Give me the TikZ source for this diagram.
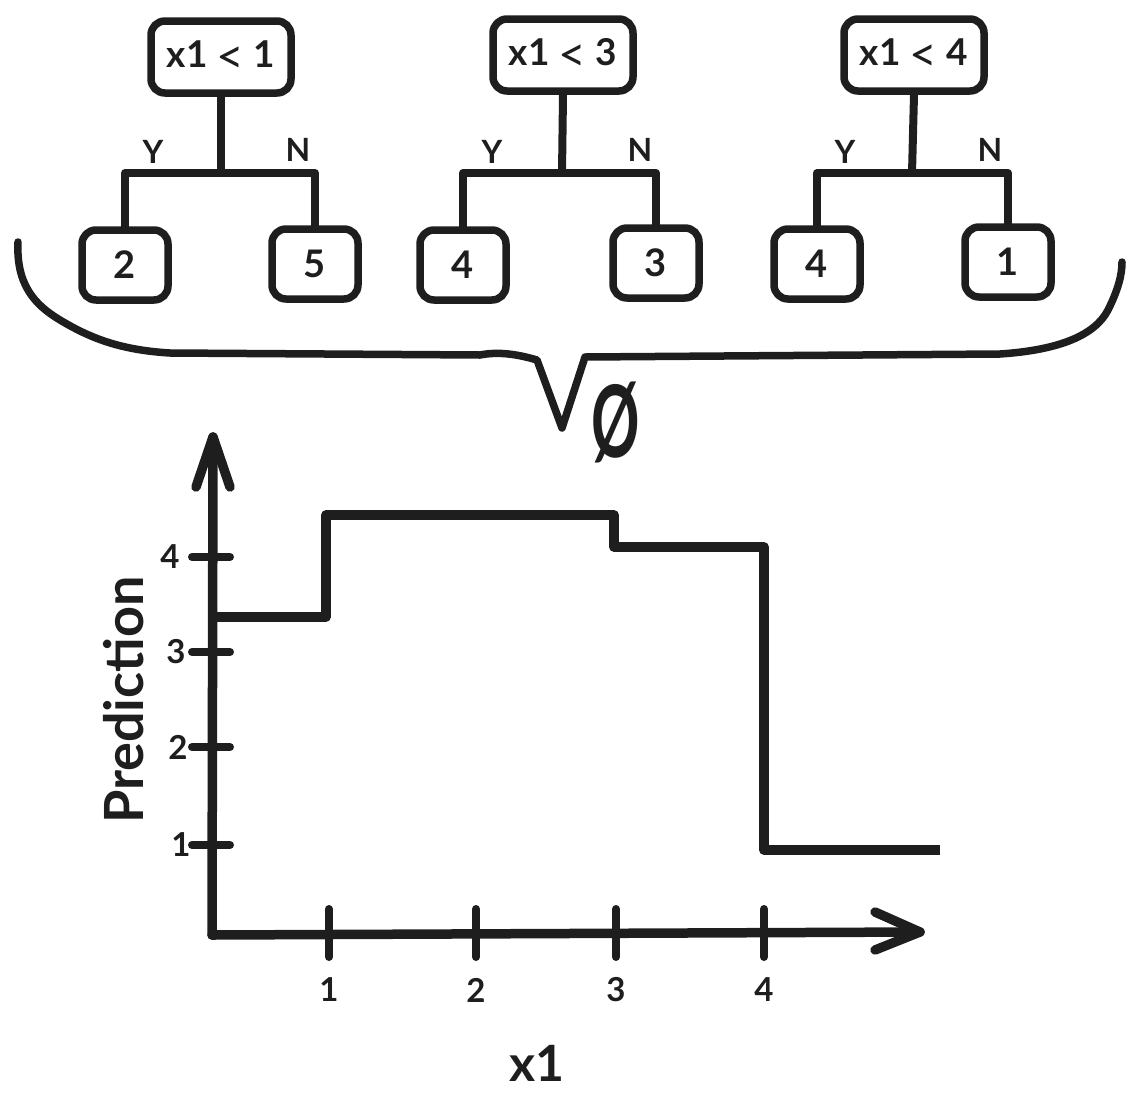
\documentclass[tikz,border=0pt]{standalone}
\usepackage{fontspec}
\setmainfont{Lato}
\usetikzlibrary{calc}
\definecolor{ink}{HTML}{1E1E1E}
\newcommand{\bigless}{\raisebox{-6pt}{\fontsize{48}{40}\selectfont\mdseries<}}
\begin{document}
\begin{tikzpicture}[x=1pt,y=-1pt,line cap=round,line join=round,
  inkline/.style={draw=ink,line width=8pt},
  rootbox/.style={draw=ink,line width=7.5pt,rounded corners=14pt,minimum width=140pt,minimum height=72pt,inner sep=0pt,text=ink,font=\fontsize{37}{40}\selectfont\bfseries},
  leafbox/.style={draw=ink,line width=7.5pt,rounded corners=14pt,minimum width=86pt,minimum height=70pt,inner sep=0pt,text=ink,font=\fontsize{38}{40}\selectfont\bfseries},
  ynlabel/.style={text=ink,inner sep=0pt,font=\fontsize{32}{34}\selectfont\bfseries},
  ticklabel/.style={text=ink,inner sep=0pt,font=\fontsize{33}{35}\selectfont\bfseries},
  axislabel/.style={text=ink,inner sep=0pt,font=\fontsize{50}{54}\selectfont\bfseries}]
\useasboundingbox (0,0) rectangle (1145,1119);

% ---------- trees ----------
\node[rootbox] (r1) at (221,57) {x1 \bigless{} 1};
\node[leafbox] (a1) at (125,265) {2};
\node[leafbox] (b1) at (315,264) {5};
\coordinate (j1) at (221,173);
\draw[inkline] (r1.south) -- (j1);
\draw[inkline] (a1.north) -- (a1.north |- j1) -- (b1.north |- j1) -- (b1.north);
\node[ynlabel] (y1) at (153,152) {Y};
\node[ynlabel] (n1) at (298,150) {N};

\node[rootbox] (r2) at (563,55) {x1 \bigless{} 3};
\node[leafbox] (a2) at (463,265) {4};
\node[leafbox] (b2) at (656,263) {3};
\coordinate (j2) at (562,173);
\draw[inkline] (r2.south) -- (j2);
\draw[inkline] (a2.north) -- (a2.north |- j2) -- (b2.north |- j2) -- (b2.north);
\node[ynlabel] (y2) at (492,152) {Y};
\node[ynlabel] (n2) at (640,150) {N};

\node[rootbox] (r3) at (914,55) {x1 \bigless{} 4};
\node[leafbox] (a3) at (817,264) {4};
\node[leafbox] (b3) at (1008,262) {1};
\coordinate (j3) at (912,173);
\draw[inkline] (r3.south) -- (j3);
\draw[inkline] (a3.north) -- (a3.north |- j3) -- (b3.north |- j3) -- (b3.north);
\node[ynlabel] (y3) at (845,152) {Y};
\node[ynlabel] (n3) at (990,150) {N};

% ---------- brace ----------
\draw[draw=ink,line width=7.5pt]
  (18,242) .. controls (16,285) and (35,305) .. (60,320)
  .. controls (90,338) and (120,350) .. (170,353)
  -- (480,355) .. controls (500,351) and (520,355) .. (537,360)
  -- (562,428) -- (585,357)
  -- (1000,354) .. controls (1060,350) and (1095,335) .. (1108,310)
  .. controls (1118,290) and (1122,275) .. (1122,262);
\node[text=ink,inner sep=0pt,font=\fontsize{100}{100}\selectfont\bfseries,xscale=0.6] (empty) at (616,422) {Ø};

% ---------- plot ----------
\coordinate (O) at (212,935);
\coordinate (ytop) at (213,437);
\coordinate (xend) at (920,932);
\draw[draw=ink,line width=9.5pt] (O) -- (ytop);
\draw[draw=ink,line width=9.5pt] (O) -- (xend);
\draw[draw=ink,line width=9.5pt] ($(ytop)+(-17,50)$) -- (ytop) -- ($(ytop)+(17,50)$);
\draw[draw=ink,line width=9.5pt] ($(xend)+(-45,-20)$) -- (xend) -- ($(xend)+(-45,18)$);

\foreach \yy/\lab/\lx in {557/4/170,652/3/176,747/2/178,845/1/181}{
  \draw[draw=ink,line width=8pt] (192,\yy) -- (230,\yy);
  \node[ticklabel] at (\lx,\yy) {\lab};
}
\foreach \xx/\lab in {329/1,476/2,616/3,764/4}{
  \draw[draw=ink,line width=8pt] (\xx,909) -- (\xx,957);
  \node[ticklabel] at (\xx,990) {\lab};
}
\node[axislabel] (xlab) at (537,1063) {x1};
\node[axislabel,rotate=90,font=\fontsize{54}{58}\selectfont\bfseries] (ylab) at (124,700) {Prediction};

\draw[draw=ink,line width=9.5pt,line cap=butt]
  (212,617) -- (326,617) -- (326,515) -- (614,515) -- (614,547)
  -- (764,547) -- (764,850) -- (940,850);
\end{tikzpicture}
\end{document}
